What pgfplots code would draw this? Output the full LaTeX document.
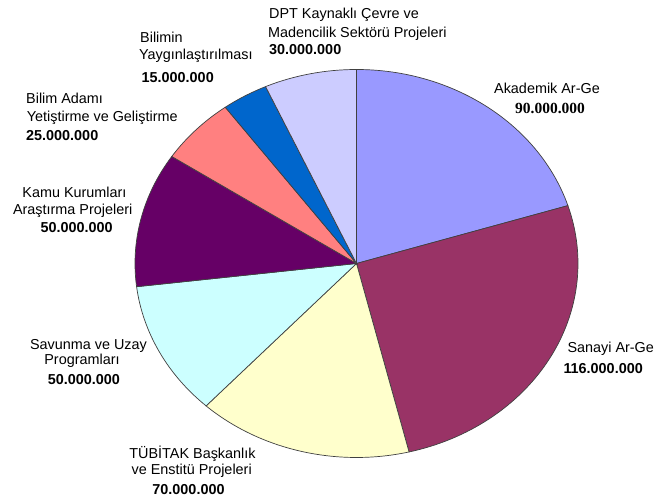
\documentclass[border=0pt]{standalone}
\usepackage{pgfplots}
\pgfplotsset{compat=1.18}
\usepackage{pgfplotstable}
\usepackage{fontspec}
\setmainfont{Liberation Sans}
\newfontfamily\serifbf{Liberation Serif}

\definecolor{akad}{RGB}{153,153,255}
\definecolor{sanayi}{RGB}{153,51,102}
\definecolor{tubitak}{RGB}{255,255,204}
\definecolor{savunma}{RGB}{204,255,255}
\definecolor{kamu}{RGB}{102,0,102}
\definecolor{bilimadami}{RGB}{255,128,128}
\definecolor{yaygin}{RGB}{0,102,204}
\definecolor{dpt}{RGB}{204,204,255}

% million TL, clockwise from 12 o'clock
\pgfplotstableread{
value colour
90  akad
116 sanayi
70  tubitak
50  savunma
50  kamu
25  bilimadami
15  yaygin
30  dpt
}\pietable

\newcommand{\lblfont}{\fontsize{14.4}{17}\selectfont}
% one line of a slice label: [anchor side]{x}{y from top}{text}
\newcommand{\lab}[4][]{\node[anchor=base #1,inner sep=0pt,font=\lblfont] at (axis cs:#2,500-#3) {#4};}

\begin{document}
\begin{tikzpicture}
\begin{axis}[
  width=665pt, height=500pt, scale only axis,
  xmin=0, xmax=665, ymin=0, ymax=500,
  hide axis, clip=false,
]
\path (rel axis cs:0,0) rectangle (rel axis cs:1,1);

\def\pietotal{0}
\pgfplotsforeachungrouped \i in {0,...,7}{%
  \pgfplotstablegetelem{\i}{value}\of\pietable
  \pgfmathsetmacro\pietotal{\pietotal+\pgfplotsretval}%
  \global\let\pietotal\pietotal
}

\def\cur{90}
\pgfplotsforeachungrouped \i in {0,...,7}{%
  \pgfplotstablegetelem{\i}{value}\of\pietable \let\v\pgfplotsretval
  \pgfplotstablegetelem{\i}{colour}\of\pietable \let\c\pgfplotsretval
  \pgfmathsetmacro\nxt{\cur-\v/\pietotal*360}%
  \edef\cmd{\noexpand\fill[fill=\c,draw=black!75,line width=0.7pt]
    (axis cs:356.5,236.5) -- ++(\cur:221.5pt and 194pt)
    arc[start angle=\cur,end angle=\nxt,x radius=221.5pt,y radius=194pt] -- cycle;}%
  \cmd
  \global\let\cur\nxt
}

% labels
\lab[west]{269}{19}{DPT Kaynaklı Çevre ve}
\lab[west]{268}{37.3}{Madencilik Sektörü Projeleri}
\lab[west]{269}{55}{\textbf{30.000.000}}

\lab[west]{140}{43}{Bilimin}
\lab[west]{139}{60}{Yaygınlaştırılması}
\lab[west]{141.5}{82.3}{\textbf{15.000.000}}

\lab[west]{26}{104}{Bilim Adamı}
\lab[west]{26.7}{122}{Yetiştirme ve Geliştirme}
\lab[west]{26}{140.7}{\textbf{25.000.000}}

\lab{74.5}{198}{Kamu Kurumları}
\lab{72.7}{215}{Araştırma Projeleri}
\lab{76.7}{232.3}{\textbf{50.000.000}}

\lab{88.5}{350}{Savunma ve Uzay}
\lab{82}{365}{Programları}
\lab{83.8}{385}{\textbf{50.000.000}}

\lab{192.5}{459}{TÜBİTAK Başkanlık}
\lab{191.7}{474.3}{ve Enstitü Projeleri}
\lab{188.5}{495}{\textbf{70.000.000}}

\lab{547}{93.3}{Akademik Ar-Ge}
\lab{550}{113.3}{{\serifbf\bfseries\fontsize{15.5}{17}\selectfont 90.000.000}}

\lab[west]{567.3}{352.3}{Sanayi Ar-Ge}
\lab[west]{563.3}{374}{\textbf{116.000.000}}
\end{axis}
\end{tikzpicture}
\end{document}
